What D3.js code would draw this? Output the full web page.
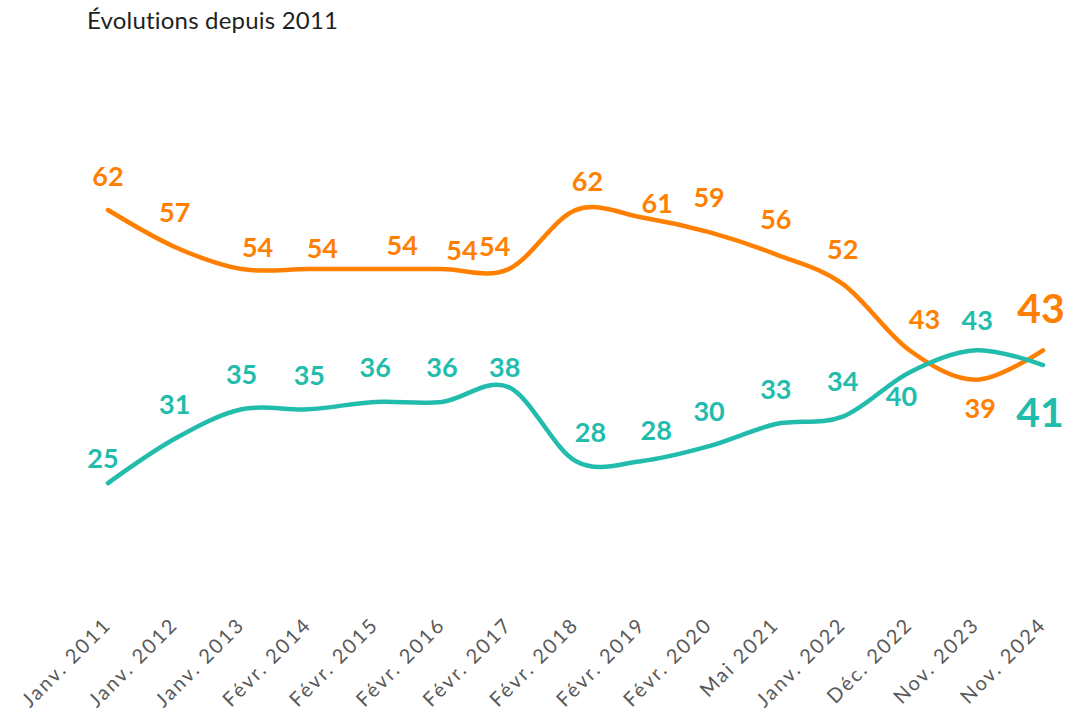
<!DOCTYPE html>
<html lang="fr">
<head>
<meta charset="UTF-8">
<title>Évolutions depuis 2011</title>
<script src="https://d3js.org/d3.v7.min.js"></script>
<style>
  body { margin: 0; background: #fff; }
  svg { display: block; }
  .title { font-family: Lato, sans-serif; font-size: 24px; fill: #1f1f1f; letter-spacing: 0.2px; }
  .tick text { font-family: Lato, sans-serif; font-size: 20px; fill: #595959; letter-spacing: 2.2px; }
  .val { font-family: Lato, sans-serif; font-weight: 700; font-size: 27px; }
  .line { fill: none; stroke-width: 4.5px; stroke-linecap: round; }
</style>
</head>
<body>
<div id="chart"></div>
<script>
const periods = ["Janv. 2011", "Janv. 2012", "Janv. 2013", "Févr. 2014", "Févr. 2015", "Févr. 2016",
  "Févr. 2017", "Févr. 2018", "Févr. 2019", "Févr. 2020", "Mai 2021", "Janv. 2022",
  "Déc. 2022", "Nov. 2023", "Nov. 2024"];
const orangeValues = [62, 57, 54, 54, 54, 54, 54, 62, 61, 59, 56, 52, 43, 39, 43];
const tealValues = [25, 31, 35, 35, 36, 36, 38, 28, 28, 30, 33, 34, 40, 43, 41];

// label nudges (dx, dy from the point), hand placed like the original
const orangeNudge = [[0, -34], [0, -35], [16, -22], [14, -21], [27, -24], [20, -19], [-14, -23],
  [12, -29], [15, -14], [0, -35], [0, -35], [0, -35], [15, -31], [4, 28], [-2, -42]];
const tealNudge = [[-5, -25], [0, -35], [0, -35], [1, -34], [0, -35], [0, -35], [-4, -20],
  [15, -29], [14, -31], [0, -35], [0, -35], [0, -35], [-8, 24], [1, -30], [-3, 47]];

const W = 1089, H = 714;
const svg = d3.select("#chart").append("svg")
  .attr("width", W)
  .attr("height", H);

const x = d3.scalePoint()
  .domain(periods)
  .range([108, 1043]);

const y = d3.scaleLinear()
  .domain([20, 70])
  .range([520, 151]);

svg.append("text")
  .attr("class", "title")
  .attr("x", 87)
  .attr("y", 29)
  .text("Évolutions depuis 2011");

const axis = svg.append("g")
  .attr("transform", "translate(0, 625)")
  .call(d3.axisBottom(x).tickSize(0).tickPadding(0));
axis.select(".domain").remove();
axis.selectAll(".tick text")
  .attr("y", 0)
  .attr("dy", 0)
  .attr("x", 0)
  .attr("text-anchor", "end")
  .attr("transform", "translate(4, 1) rotate(-45)");

const line = d3.line()
  .x((d, i) => x(periods[i]))
  .y(d => y(d))
  .curve(d3.curveCardinal.tension(0));

const series = [
  { name: "orange", values: orangeValues, nudge: orangeNudge, color: "#ff8000" },
  { name: "teal", values: tealValues, nudge: tealNudge, color: "#22bcad" }
];

series.forEach(s => {
  svg.append("path")
    .datum(s.values)
    .attr("class", "line")
    .attr("stroke", s.color)
    .attr("d", line);
});

series.forEach(s => {
  const last = s.values.length - 1;
  svg.selectAll(".val-" + s.name)
    .data(s.values)
    .enter()
    .append("text")
    .attr("class", "val val-" + s.name)
    .attr("x", (d, i) => x(periods[i]) + s.nudge[i][0])
    .attr("y", (d, i) => y(d) + s.nudge[i][1])
    .attr("dy", "0.36em")
    .attr("text-anchor", "middle")
    .attr("fill", s.color)
    .style("font-size", (d, i) => i === last ? "41px" : null)
    .text(d => d);
});
</script>
</body>
</html>
